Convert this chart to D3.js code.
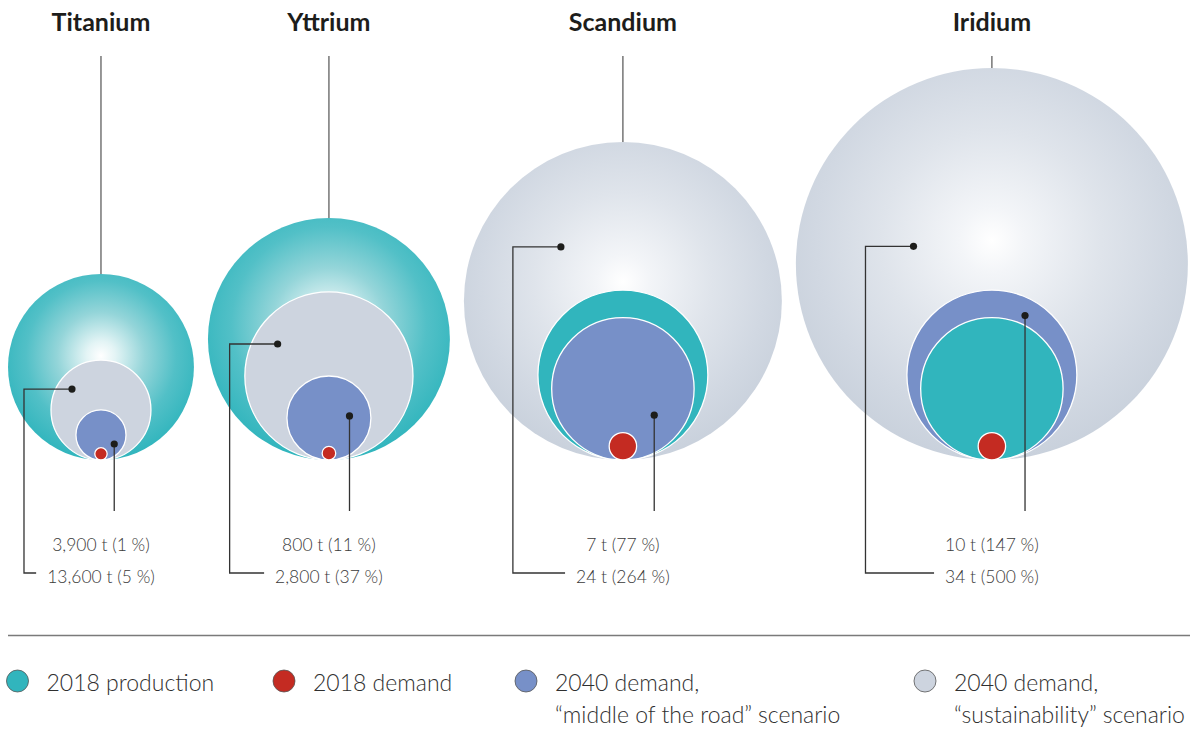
<!DOCTYPE html>
<html>
<head>
<meta charset="utf-8">
<script src="https://cdn.jsdelivr.net/npm/d3@7"></script>
<style>
  html, body { margin: 0; padding: 0; background: #ffffff; }
  svg { display: block; }
  text { font-family: Lato, "Noto Sans", sans-serif; }
</style>
</head>
<body>
<svg id="chart" width="1191" height="729"></svg>
<script>
// Metals shown, left to right
const metals = ["Titanium", "Yttrium", "Scandium", "Iridium"];

// Relative bubble areas (largest bubble = 100)
const production2018 = [22.5, 38.1, 18.8, 13.2];
const demand2018     = [0.10, 0.12, 0.49, 0.49];
const demandMid2040  = [1.63, 4.59, 13.2, 18.8];
const demandSust2040 = [6.5, 18.4, 65.8, 100];

// 2040 demand in tonnes and as share of 2018 production (%)
const midTonnes  = [3900, 800, 7, 10];
const midShare   = [1, 11, 77, 147];
const sustTonnes = [13600, 2800, 24, 34];
const sustShare  = [5, 37, 264, 500];

// Legend entries
const legendLabels = [
  ["2018 production"],
  ["2018 demand"],
  ["2040 demand,", "\u201Cmiddle of the road\u201D scenario"],
  ["2040 demand,", "\u201Csustainability\u201D scenario"]
];

const colors = {
  prod: "#31b5bd",
  dem:  "#c42b22",
  mid:  "#7790c8",
  sust: "#cdd4df"
};

const svg = d3.select("#chart");

const r = d3.scaleSqrt().domain([0, 100]).range([0, 196]);
const baseY = 460;
const colGap = 14;
const leftEdge = 8;

// Callout anchor points, as fractions of the bubble radius from its centre
const sustAnchor = [[-0.58, -0.42], [-0.61, -0.38], [-0.39, -0.34], [-0.40, -0.09]];
const midAnchor  = [[0.53, 0.36], [0.49, -0.05], [0.44, 0.37], [0.39, -0.70]];

const fmt = d3.format(",");

// Build per-metal bubble sets and column positions
let cursor = leftEdge;
const columns = metals.map((name, i) => {
  const bubbles = [
    { key: "prod", v: production2018[i] },
    { key: "sust", v: demandSust2040[i] },
    { key: "mid",  v: demandMid2040[i] },
    { key: "dem",  v: demand2018[i] }
  ].map(b => ({ ...b, r: r(b.v) }))
   .sort((a, b) => b.r - a.r);
  const outerR = bubbles[0].r;
  const cx = cursor + outerR;
  cursor += 2 * outerR + colGap;
  return { name, i, cx, bubbles, outerR };
});

// Radial gradients for the outer bubbles
const defs = svg.append("defs");
const gradStops = {
  prod: [[0, "#ffffff"], [0.14, "#e3f4f5"], [0.42, "#94d5d9"], [0.72, "#52c0c7"], [1, "#31b5bd"]],
  sust: [[0, "#ffffff"], [0.15, "#f3f5f8"], [0.5, "#dfe4eb"], [0.8, "#d1d8e2"], [1, "#c9d1dc"]]
};
columns.forEach(c => {
  const key = c.bubbles[0].key;
  const g = defs.append("radialGradient")
    .attr("id", "glow-" + c.i)
    .attr("cx", "50%").attr("cy", "44%").attr("r", "56%")
    .attr("fx", "50%").attr("fy", "44%");
  g.selectAll("stop").data(gradStops[key]).join("stop")
    .attr("offset", d => d[0])
    .attr("stop-color", d => d[1]);
});

const col = svg.selectAll("g.metal").data(columns).join("g").attr("class", "metal");

// Metal names with drop lines
col.append("text")
  .attr("x", d => d.cx).attr("y", 31)
  .attr("text-anchor", "middle")
  .attr("font-size", 25).attr("font-weight", 700)
  .attr("fill", "#1d1d1b")
  .text(d => d.name);

col.append("line")
  .attr("x1", d => d.cx).attr("x2", d => d.cx)
  .attr("y1", 56).attr("y2", d => baseY - 2 * d.outerR)
  .attr("stroke", "#6b6b6b").attr("stroke-width", 1.4);

// Nested bubbles, all resting on the same baseline
col.each(function (c) {
  d3.select(this).selectAll("circle.bubble").data(c.bubbles).join("circle")
    .attr("class", "bubble")
    .attr("cx", c.cx)
    .attr("cy", b => baseY - b.r)
    .attr("r", b => b.r)
    .attr("fill", (b, j) => j === 0 ? `url(#glow-${c.i})` : colors[b.key])
    .attr("stroke", (b, j) => j === 0 ? "none" : "#ffffff")
    .attr("stroke-width", 1.3);
});

// Callouts
const lineColor = "#333333";
const labelSize = 17.5;
const line1Y = 551;
const line2Y = 583;

col.each(function (c) {
  const g = d3.select(this);
  const i = c.i;
  const sust = c.bubbles.find(b => b.key === "sust");
  const mid = c.bubbles.find(b => b.key === "mid");

  // "sustainability" anchor and elbow leader
  const sx = c.cx + sustAnchor[i][0] * sust.r;
  const sy = baseY - sust.r + sustAnchor[i][1] * sust.r;
  const bx = sx - 48;

  const t2 = g.append("text")
    .attr("x", c.cx).attr("y", line2Y)
    .attr("text-anchor", "middle")
    .attr("font-size", labelSize).attr("font-weight", 300)
    .attr("fill", "#3a3a3a")
    .text(`${fmt(sustTonnes[i])} t (${sustShare[i]} %)`);
  const t2Left = t2.node().getBBox().x;

  g.append("path")
    .attr("d", `M${sx},${sy}H${bx}V${line2Y - 10}H${Math.max(bx + 5, t2Left - 11)}`)
    .attr("fill", "none").attr("stroke", lineColor).attr("stroke-width", 1.3);
  g.append("circle").attr("cx", sx).attr("cy", sy).attr("r", 3.6).attr("fill", "#1d1d1b");

  // "middle of the road" anchor and drop line
  const mx = c.cx + midAnchor[i][0] * mid.r;
  const my = baseY - mid.r + midAnchor[i][1] * mid.r;
  g.append("line")
    .attr("x1", mx).attr("x2", mx).attr("y1", my).attr("y2", 511)
    .attr("stroke", lineColor).attr("stroke-width", 1.3);
  g.append("circle").attr("cx", mx).attr("cy", my).attr("r", 3.6).attr("fill", "#1d1d1b");

  g.append("text")
    .attr("x", c.cx).attr("y", line1Y)
    .attr("text-anchor", "middle")
    .attr("font-size", labelSize).attr("font-weight", 300)
    .attr("fill", "#3a3a3a")
    .text(`${fmt(midTonnes[i])} t (${midShare[i]} %)`);
});

// Divider
svg.append("line")
  .attr("x1", 8).attr("x2", 1190).attr("y1", 635.5).attr("y2", 635.5)
  .attr("stroke", "#7a7a7a").attr("stroke-width", 1.4);

// Legend
const legendKeys = ["prod", "dem", "mid", "sust"];
const legendX = d3.scaleOrdinal().domain(legendKeys).range([17.5, 284, 526, 925]);
const leg = svg.selectAll("g.legend").data(legendKeys).join("g")
  .attr("class", "legend")
  .attr("transform", k => `translate(${legendX(k)},681)`);

leg.append("circle")
  .attr("r", 11)
  .attr("fill", k => colors[k])
  .attr("stroke", "#555555").attr("stroke-width", 0.8);

leg.append("text")
  .attr("x", 29).attr("y", 9.5)
  .attr("font-size", 23).attr("font-weight", 300)
  .attr("fill", "#2f2f2f")
  .selectAll("tspan")
  .data((k, i) => legendLabels[i])
  .join("tspan")
  .attr("x", 29)
  .attr("dy", (d, j) => j === 0 ? 0 : 32)
  .text(d => d);
</script>
</body>
</html>
